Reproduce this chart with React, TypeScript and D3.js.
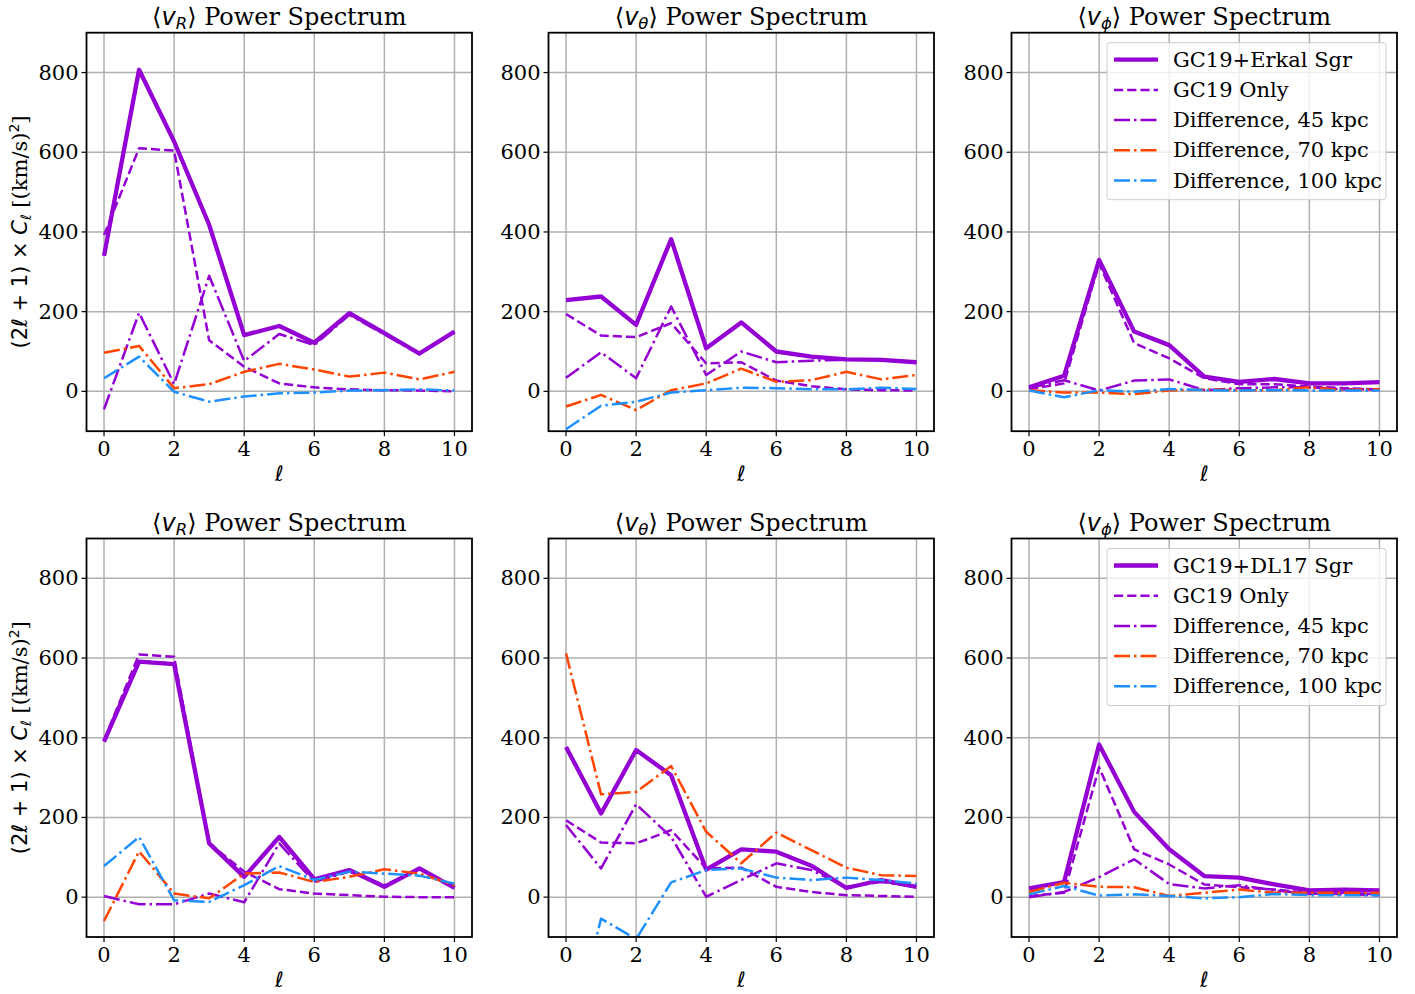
import React from "react";
import * as d3 from "d3";

const ells = [0, 1, 2, 3, 4, 5, 6, 7, 8, 9, 10];
const xTicks = [0, 2, 4, 6, 8, 10];
const yTicks = [0, 200, 400, 600, 800];

const legendTop = ["GC19+Erkal Sgr", "GC19 Only", "Difference, 45 kpc", "Difference, 70 kpc", "Difference, 100 kpc"];
const legendBottom = ["GC19+DL17 Sgr", "GC19 Only", "Difference, 45 kpc", "Difference, 70 kpc", "Difference, 100 kpc"];

// Top row (Erkal Sgr)
const vR_top_total = [340, 807, 627, 418, 141, 164, 122, 196, 146, 95, 150];
const vR_top_gc19 = [392, 610, 604, 128, 62, 20, 10, 5, 3, 2, 0];
const vR_top_d45 = [-45, 197, 18, 290, 76, 144, 116, 192, 143, 93, 148];
const vR_top_d70 = [97, 114, 8, 18, 49, 69, 55, 37, 47, 30, 49];
const vR_top_d100 = [33, 87, -1, -26, -13, -5, -3, 2, 3, 5, 2];

const vT_top_total = [229, 238, 167, 382, 108, 173, 100, 87, 80, 79, 73];
const vT_top_gc19 = [194, 140, 136, 171, 70, 73, 27, 13, 5, 3, 2];
const vT_top_d45 = [34, 98, 33, 213, 41, 100, 73, 77, 79, 79, 73];
const vT_top_d70 = [-38, -9, -47, 3, 20, 57, 24, 28, 49, 30, 41];
const vT_top_d100 = [-95, -36, -26, -3, 3, 9, 8, 5, 5, 9, 6];

const vP_top_total = [10, 39, 330, 150, 116, 37, 24, 31, 20, 20, 23];
const vP_top_gc19 = [5, 20, 321, 121, 83, 33, 18, 18, 12, 8, 5];
const vP_top_d45 = [8, 28, 2, 27, 30, 3, 8, 10, 10, 5, 5];
const vP_top_d70 = [3, -3, -3, -7, 2, 5, 3, 3, 10, 3, 6];
const vP_top_d100 = [2, -15, 3, -1, 6, 3, 2, 3, 2, 2, 2];

// Bottom row (DL17 Sgr)
const vR_bot_total = [390, 591, 585, 135, 51, 151, 45, 68, 26, 72, 23];
const vR_bot_gc19 = [394, 609, 603, 135, 64, 20, 9, 5, 1, 0, 0];
const vR_bot_d45 = [3, -18, -18, 9, -13, 135, 38, 64, 30, 70, 25];
const vR_bot_d70 = [-60, 115, 9, -3, 59, 62, 38, 51, 70, 59, 30];
const vR_bot_d100 = [78, 151, -8, -12, 30, 78, 43, 64, 59, 54, 34];

const vT_bot_total = [377, 210, 369, 306, 69, 120, 114, 79, 23, 43, 26];
const vT_bot_gc19 = [193, 137, 135, 168, 72, 74, 26, 13, 5, 3, 1];
const vT_bot_d45 = [181, 72, 233, 151, 1, 43, 85, 68, 26, 38, 26];
const vT_bot_d70 = [612, 258, 264, 329, 164, 85, 162, 118, 74, 55, 53];
const vT_bot_d100 = [-400, -54, -105, 37, 68, 72, 49, 43, 49, 43, 34];

const vP_bot_total = [22, 38, 383, 214, 120, 53, 49, 32, 17, 19, 17];
const vP_bot_gc19 = [3, 11, 326, 120, 82, 32, 25, 19, 11, 7, 5];
const vP_bot_d45 = [0, 13, 50, 95, 33, 22, 30, 17, 8, 11, 7];
const vP_bot_d70 = [13, 36, 26, 25, 3, 11, 19, 11, 11, 11, 11];
const vP_bot_d100 = [7, 28, 4, 7, 3, -3, 0, 8, 5, 5, 5];

const PURPLE = "#9400D3";
const ORANGE = "#FF4500";
const BLUE = "#1E90FF";

const seriesStyles = [
  { color: PURPLE, width: 4.3, dash: "" },
  { color: PURPLE, width: 2.5, dash: "9.2,4" },
  { color: PURPLE, width: 2.5, dash: "16,4,2.5,4" },
  { color: ORANGE, width: 2.5, dash: "16,4,2.5,4" },
  { color: BLUE, width: 2.5, dash: "16,4,2.5,4" },
];

type Panel = {
  sub: string;
  series: number[][];
  legend?: string[];
  ylabel: boolean;
};

const rows: Panel[][] = [
  [
    { sub: "R", series: [vR_top_total, vR_top_gc19, vR_top_d45, vR_top_d70, vR_top_d100], ylabel: true },
    { sub: "θ", series: [vT_top_total, vT_top_gc19, vT_top_d45, vT_top_d70, vT_top_d100], ylabel: false },
    { sub: "ϕ", series: [vP_top_total, vP_top_gc19, vP_top_d45, vP_top_d70, vP_top_d100], ylabel: false, legend: legendTop },
  ],
  [
    { sub: "R", series: [vR_bot_total, vR_bot_gc19, vR_bot_d45, vR_bot_d70, vR_bot_d100], ylabel: true },
    { sub: "θ", series: [vT_bot_total, vT_bot_gc19, vT_bot_d45, vT_bot_d70, vT_bot_d100], ylabel: false },
    { sub: "ϕ", series: [vP_bot_total, vP_bot_gc19, vP_bot_d45, vP_bot_d70, vP_bot_d100], ylabel: false, legend: legendBottom },
  ],
];

const W = 1415;
const H = 994;
const colLefts = [86.5, 548.5, 1011.5];
const rowTops = [32.7, 538.5];
const PW = 385.5;
const PH = 398.5;

const SERIF = "'DejaVu Serif', serif";
const SANS = "'DejaVu Sans', sans-serif";
const FS = 21;
const TFS = 24;

function PanelView({ p, x0, y0, id }: { p: Panel; x0: number; y0: number; id: string }) {
  const x = d3.scaleLinear().domain([-0.5, 10.5]).range([0, PW]);
  const y = d3.scaleLinear().domain([-100, 900]).range([PH, 0]);
  const line = d3
    .line<number>()
    .x((_, i) => x(ells[i]))
    .y((d) => y(d));
  return (
    <g transform={`translate(${x0},${y0})`}>
      <defs>
        <clipPath id={id}>
          <rect x={0} y={0} width={PW} height={PH} />
        </clipPath>
      </defs>
      {xTicks.map((t) => (
        <line key={"gx" + t} x1={x(t)} x2={x(t)} y1={0} y2={PH} stroke="#b0b0b0" strokeWidth={1.5} />
      ))}
      {yTicks.map((t) => (
        <line key={"gy" + t} x1={0} x2={PW} y1={y(t)} y2={y(t)} stroke="#b0b0b0" strokeWidth={1.5} />
      ))}
      <g clipPath={`url(#${id})`}>
        {p.series.map((s, i) => (
          <path
            key={i}
            d={line(s) || ""}
            fill="none"
            stroke={seriesStyles[i].color}
            strokeWidth={seriesStyles[i].width}
            strokeDasharray={seriesStyles[i].dash}
            strokeLinejoin="round"
          />
        ))}
      </g>
      <rect x={0} y={0} width={PW} height={PH} fill="none" stroke="#000" strokeWidth={1.8} />
      {xTicks.map((t) => (
        <g key={"tx" + t}>
          <line x1={x(t)} x2={x(t)} y1={PH} y2={PH + 5} stroke="#000" strokeWidth={1.2} />
          <text x={x(t)} y={PH + 25} textAnchor="middle" fontFamily={SERIF} fontSize={FS}>
            {t}
          </text>
        </g>
      ))}
      {yTicks.map((t) => (
        <g key={"ty" + t}>
          <line x1={-5} x2={0} y1={y(t)} y2={y(t)} stroke="#000" strokeWidth={1.2} />
          <text x={-8} y={y(t) + 7} textAnchor="end" fontFamily={SERIF} fontSize={FS}>
            {t}
          </text>
        </g>
      ))}
      <text x={PW / 2} y={PH + 50} textAnchor="middle" fontFamily={SANS} fontStyle="italic" fontSize={FS}>
        ℓ
      </text>
      <text x={PW / 2} y={-8} textAnchor="middle" fontSize={TFS}>
        <tspan fontFamily={SANS}>⟨</tspan>
        <tspan fontFamily={SANS} fontStyle="italic">v</tspan>
        <tspan fontFamily={SANS} fontStyle="italic" fontSize={16.5} dy={4}>{p.sub}</tspan>
        <tspan fontFamily={SANS} dy={-4}>⟩</tspan>
        <tspan fontFamily={SERIF}> Power Spectrum</tspan>
      </text>
      {p.ylabel && (
        <text transform={`translate(${-60},${PH / 2}) rotate(-90)`} textAnchor="middle" fontSize={FS}>
          <tspan fontFamily={SANS}>(2</tspan>
          <tspan fontFamily={SANS} fontStyle="italic">ℓ</tspan>
          <tspan fontFamily={SANS}> + 1) × </tspan>
          <tspan fontFamily={SANS} fontStyle="italic">C</tspan>
          <tspan fontFamily={SANS} fontStyle="italic" fontSize={14} dy={4}>ℓ</tspan>
          <tspan fontFamily={SERIF} dy={-4}> [(km/s)</tspan>
          <tspan fontFamily={SANS} fontSize={14} dy={-8}>2</tspan>
          <tspan fontFamily={SERIF} dy={8}>]</tspan>
        </text>
      )}
      {p.legend && (
        <g transform={`translate(${PW - 290},${10})`}>
          <rect x={0} y={0} width={279} height={157} rx={3} fill="#fff" fillOpacity={0.8} stroke="#cccccc" strokeWidth={1} />
          {p.legend.map((lab, i) => (
            <g key={lab} transform={`translate(0,${17 + i * 30.2})`}>
              <line
                x1={7}
                x2={51}
                y1={0}
                y2={0}
                stroke={seriesStyles[i].color}
                strokeWidth={seriesStyles[i].width}
                strokeDasharray={seriesStyles[i].dash}
              />
              <text x={66} y={7} fontFamily={SERIF} fontSize={FS}>
                {lab}
              </text>
            </g>
          ))}
        </g>
      )}
    </g>
  );
}

export default function App() {
  return (
    <svg width={W} height={H} style={{ display: "block", position: "absolute", left: 0, top: 0 }}>
      <rect x={0} y={0} width={W} height={H} fill="#fff" />
      {rows.map((row, ri) =>
        row.map((p, ci) => (
          <PanelView key={`${ri}-${ci}`} id={`clip-${ri}-${ci}`} p={p} x0={colLefts[ci]} y0={rowTops[ri]} />
        ))
      )}
    </svg>
  );
}
